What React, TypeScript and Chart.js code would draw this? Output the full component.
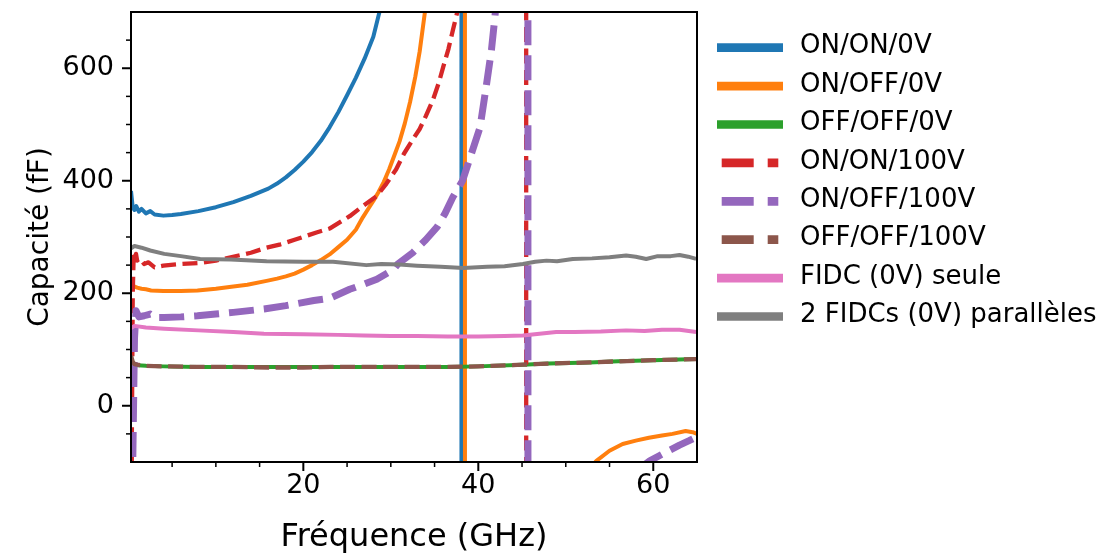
import React, { useEffect, useRef } from "react";
import { Chart, registerables } from "chart.js";

Chart.register(...registerables);

// ---------- Data (frequency in GHz, capacitance in fF) ----------
const onOn0V_f = [0.3, 0.5, 0.7, 0.9, 1.2, 1.5, 2, 2.5, 3, 4, 5, 6, 8, 10, 12, 14, 16, 17, 18, 19, 20, 21, 22, 23, 24, 25, 26, 27, 28, 28.7, 30, 32, 34, 36, 37.5, 38.05, 38.1, 40, 45, 50, 55, 60, 65];
const onOn0V_c = [382, 352, 348, 355, 345, 350, 342, 346, 340, 338, 339, 341, 346, 353, 362, 373, 386, 395, 406, 419, 434, 451, 471, 495, 522, 552, 583, 617, 656, 700, 790, 960, 1250, 1900, 3200, 8000, -8000, -2500, -900, -550, -400, -320, -260];

const onOff0V_f = [0.3, 0.5, 0.7, 1, 1.5, 2, 2.6, 4, 6, 7.9, 10, 12, 13.6, 15.8, 17, 18, 19, 20, 21, 22, 23, 24, 25, 26, 26.8, 27.5, 28, 28.6, 29.2, 29.8, 30.4, 31, 31.6, 32.2, 32.8, 33.3, 33.9, 35, 36.5, 38.45, 38.5, 40, 45, 50, 52, 53.5, 55, 56.5, 58, 59.5, 61, 62.2, 63.7, 64.5, 65];
const onOff0V_c = [218, 213, 212, 210, 208, 207, 205, 204, 204, 205, 208, 212, 215, 222, 226, 230, 235, 242, 250, 259, 269, 282, 295, 313, 335, 352, 364, 380, 398, 420, 445, 470, 502, 540, 585, 630, 700, 850, 1300, 6000, -6000, -1500, -400, -170, -125, -98, -80, -68, -62, -57, -53, -50, -45, -47, -50];

const offOff0V_f = [0.3, 0.5, 0.7, 1, 2, 4, 7.9, 12, 16, 20, 23.1, 28, 32, 36.5, 40, 45.1, 48, 52.7, 56, 60, 64.9];
const offOff0V_c = [84, 74, 72, 72, 71, 70, 69, 69, 69, 69, 69, 69, 69, 69, 70, 73, 75, 77, 79, 81, 83];

const onOn100V_f = [0.3, 0.4, 0.5, 0.6, 0.7, 0.87, 1.0, 1.3, 1.8, 2.3, 3.0, 4, 6, 8.2, 10, 11.7, 14, 15.8, 17.4, 19, 21.5, 23, 25.3, 26.8, 28.4, 29.5, 30.6, 31.5, 32.5, 33.3, 34.0, 34.8, 35.5, 36.0, 36.6, 37.1, 37.6, 39, 42, 44.5, 45.45, 45.5, 48, 52, 56, 60, 65];
const onOn100V_c = [-600, -50, 200, 265, 255, 270, 258, 262, 252, 255, 246, 249, 252, 254, 258, 264, 272, 281, 287, 295, 308, 315, 337, 355, 373, 395, 420, 448, 473, 492, 515, 543, 575, 603, 635, 668, 700, 800, 1200, 2500, 8000, -8000, -1500, -700, -450, -330, -260];

const onOff100V_f = [0.3, 0.5, 0.7, 0.87, 1.2, 1.8, 2.5, 3, 4.1, 6, 7.9, 10, 12, 15.5, 18, 21.2, 23, 25.3, 26.9, 28.4, 30.3, 30.8, 32.5, 34, 35.3, 36.2, 37.1, 38.2, 39.0, 40.2, 40.9, 41.5, 41.9, 43, 44.5, 45.65, 45.7, 48, 52, 56, 59.6, 61.4, 63, 64.1, 65];
const onOff100V_c = [-900, -100, 120, 169, 158, 160, 163, 157, 157, 158, 160, 163, 166, 172, 178, 187, 191, 207, 216, 225, 242, 252, 272, 295, 318, 342, 371, 400, 438, 495, 567, 632, 691, 900, 1600, 8000, -8000, -800, -260, -140, -98, -83, -70, -62, -55];

const offOff100V_f = [0.3, 0.5, 0.7, 1, 2, 4, 7.9, 12, 16, 20, 23.1, 28, 32, 36.5, 40, 45.1, 48, 52.7, 56, 60, 64.9];
const offOff100V_c = [89, 78, 74, 73, 71, 70, 69, 69, 68, 68, 69, 69, 69, 69, 70, 73, 75, 77, 79, 81, 83];

const fidcSeule_f = [0.3, 0.7, 2, 4.1, 8, 12, 15.5, 20, 24, 26.9, 30, 33, 36.5, 40, 43, 45.1, 47, 48.9, 51, 54, 56.9, 59, 61, 63, 64.9];
const fidcSeule_c = [138, 142, 139, 137, 134, 131, 128, 127, 126, 125, 124, 124, 123, 123, 124, 125, 128, 131, 131, 132, 134, 133, 135, 135, 131];

const fidcPar_f = [0.3, 0.7, 1.5, 2.5, 4.1, 6, 8.2, 11.7, 15.8, 20, 23.4, 27.2, 28.9, 31, 33, 35.7, 38.3, 41, 43, 45.1, 46.5, 47.8, 49, 50.8, 53, 55, 56.9, 58, 59.2, 60.5, 62, 63, 64, 64.9];
const fidcPar_c = [280, 284, 281, 276, 270, 266, 261, 260, 257, 256, 256, 250, 252, 251, 249, 247, 245, 247, 248, 252, 256, 258, 257, 261, 262, 264, 267, 265, 261, 266, 266, 268, 265, 261];

const seriesLabels = ["ON/ON/0V", "ON/OFF/0V", "OFF/OFF/0V", "ON/ON/100V", "ON/OFF/100V", "OFF/OFF/100V", "FIDC (0V) seule", "2 FIDCs (0V) parallèles"];
const seriesFreqs = [onOn0V_f, onOff0V_f, offOff0V_f, onOn100V_f, onOff100V_f, offOff100V_f, fidcSeule_f, fidcPar_f];
const seriesCaps = [onOn0V_c, onOff0V_c, offOff0V_c, onOn100V_c, onOff100V_c, offOff100V_c, fidcSeule_c, fidcPar_c];
const seriesColors = ["#1f77b4", "#ff7f0e", "#2ca02c", "#d62728", "#9467bd", "#8c564b", "#e377c2", "#7f7f7f"];
const seriesWidths = [4, 4, 4, 4.3, 7, 4.3, 4, 4];
const seriesDashes: number[][] = [[], [], [], [15, 6.5], [25, 10], [15, 6.5], [], []];

const xMajorTicks = [20, 40, 60];
const xMinorTicks = [5, 10, 15, 25, 30, 35, 45, 50, 55];
const yMajorTicks = [0, 200, 400, 600];
const yMinorTicks = [-50, 50, 100, 150, 250, 300, 350, 450, 500, 550, 650];

const xTitle = "Fréquence (GHz)";
const yTitle = "Capacité (fF)";

const FONT = "'DejaVu Sans', sans-serif";

const decorPlugin = {
  id: "decor",
  afterDraw(chart: any) {
    const { ctx, chartArea: a, scales } = chart;
    const xs = scales.x;
    const ys = scales.y;
    ctx.save();
    ctx.strokeStyle = "#000";
    ctx.lineCap = "butt";
    const line = (x1: number, y1: number, x2: number, y2: number, w: number) => {
      ctx.lineWidth = w;
      ctx.beginPath();
      ctx.moveTo(x1, y1);
      ctx.lineTo(x2, y2);
      ctx.stroke();
    };
    xMajorTicks.forEach((v) => {
      const p = xs.getPixelForValue(v);
      line(p, a.bottom, p, a.bottom + 9, 2);
    });
    xMinorTicks.forEach((v) => {
      const p = xs.getPixelForValue(v);
      line(p, a.bottom, p, a.bottom + 5, 1.5);
    });
    yMajorTicks.forEach((v) => {
      const p = ys.getPixelForValue(v);
      line(a.left, p, a.left - 9, p, 2);
    });
    yMinorTicks.forEach((v) => {
      const p = ys.getPixelForValue(v);
      line(a.left, p, a.left - 5, p, 1.5);
    });
    // frame
    ctx.lineWidth = 2;
    ctx.strokeRect(a.left, a.top, a.right - a.left, a.bottom - a.top);

    // axis titles
    ctx.fillStyle = "#000";
    ctx.textAlign = "center";
    ctx.textBaseline = "alphabetic";
    ctx.font = `32px ${FONT}`;
    ctx.fillText(xTitle, (a.left + a.right) / 2, 546);
    ctx.save();
    ctx.font = `28px ${FONT}`;
    ctx.translate(48, (a.top + a.bottom) / 2);
    ctx.rotate(-Math.PI / 2);
    ctx.fillText(yTitle, 0, 0);
    ctx.restore();

    // legend
    const rowY0 = 47.7;
    const rowStep = 38.4;
    seriesLabels.forEach((lab, i) => {
      const y = rowY0 + i * rowStep;
      ctx.strokeStyle = seriesColors[i];
      ctx.lineWidth = 8.7;
      ctx.lineCap = "butt";
      const d = seriesDashes[i];
      ctx.beginPath();
      if (d.length) {
        ctx.setLineDash([32, 14]);
        ctx.moveTo(721.7, y);
        ctx.lineTo(778.3, y);
      } else {
        ctx.setLineDash([]);
        ctx.moveTo(717, y);
        ctx.lineTo(783, y);
      }
      ctx.stroke();
      ctx.setLineDash([]);
      ctx.fillStyle = "#000";
      ctx.font = `26px ${FONT}`;
      ctx.textAlign = "left";
      ctx.textBaseline = "middle";
      ctx.fillText(lab, 800, y - 1);
    });
    ctx.restore();
  },
};

export default function App() {
  const ref = useRef<HTMLCanvasElement | null>(null);
  useEffect(() => {
    if (!ref.current) return;
    Chart.defaults.font.family = FONT;
    const n = seriesLabels.length;
    const chart = new Chart(ref.current, {
      type: "line",
      data: {
        datasets: seriesLabels.map((label, i) => ({
          label,
          data: seriesFreqs[i].map((f, k) => ({ x: f, y: seriesCaps[i][k] })),
          borderColor: seriesColors[i],
          backgroundColor: seriesColors[i],
          borderWidth: seriesWidths[i],
          borderDash: seriesDashes[i],
          borderJoinStyle: "round" as const,
          pointRadius: 0,
          tension: 0,
          fill: false,
          order: n - i,
        })),
      },
      options: {
        animation: false,
        responsive: false,
        events: [],
        layout: { padding: { left: 0, top: 12, right: 410, bottom: 0 } },
        plugins: { legend: { display: false }, tooltip: { enabled: false } },
        scales: {
          x: {
            type: "linear",
            min: 0.3,
            max: 65,
            border: { display: false },
            grid: { display: true, drawOnChartArea: false, drawTicks: true, tickLength: 9, tickColor: "rgba(0,0,0,0)", color: "rgba(0,0,0,0)" },
            afterBuildTicks: (s: any) => {
              s.ticks = xMajorTicks.map((v) => ({ value: v }));
            },
            ticks: { autoSkip: false, maxRotation: 0, padding: -1, color: "#000", font: { size: 27, family: FONT } },
            afterFit: (s: any) => {
              s.height = 94;
              s.paddingLeft = 0;
              s.paddingRight = 0;
            },
          },
          y: {
            type: "linear",
            min: -100,
            max: 700,
            border: { display: false },
            grid: { display: true, drawOnChartArea: false, drawTicks: true, tickLength: 9, tickColor: "rgba(0,0,0,0)", color: "rgba(0,0,0,0)" },
            afterBuildTicks: (s: any) => {
              s.ticks = yMajorTicks.map((v) => ({ value: v }));
            },
            ticks: { autoSkip: false, padding: 8, color: "#000", font: { size: 27, family: FONT } },
            afterFit: (s: any) => {
              s.width = 131;
              s.paddingTop = 0;
              s.paddingBottom = 0;
            },
          },
        },
      },
      plugins: [decorPlugin],
    });
    return () => chart.destroy();
  }, []);
  return (
    <div style={{ position: "absolute", left: 0, top: 0, width: 1107, height: 556, background: "#fff" }}>
      <canvas ref={ref} width={1107} height={556} />
    </div>
  );
}
